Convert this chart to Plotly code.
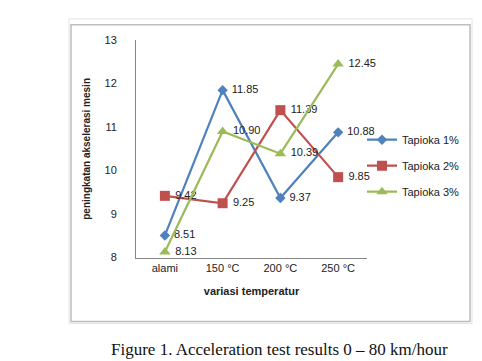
import plotly.graph_objects as go

categories = ["alami", "150 °C", "200 °C", "250 °C"]
tapioka1 = [8.51, 11.85, 9.37, 10.88]
tapioka2 = [9.42, 9.25, 11.39, 9.85]
tapioka3 = [8.13, 10.90, 10.39, 12.45]
series_names = ["Tapioka 1%", "Tapioka 2%", "Tapioka 3%"]
y_ticks = [8, 9, 10, 11, 12, 13]

W, H = 482, 361
def px(x): return x / W
def py(y): return 1 - y / H

colors = ["#4F81BD", "#C0504D", "#9BBB59"]
symbols = ["diamond", "square", "triangle-up"]
sizes = [8, 10, 10]

fig = go.Figure()
for name, vals, c, s, sz in zip(series_names, [tapioka1, tapioka2, tapioka3], colors, symbols, sizes):
    fig.add_trace(go.Scatter(
        x=categories, y=vals, name=name, mode="lines+markers+text", legendgroup=name,
        line=dict(color=c, width=2.2),
        marker=dict(symbol=s, size=sz, color=c),
        text=[f" {v:.2f}" for v in vals], textposition="middle right",
        textfont=dict(family="Liberation Sans, sans-serif", size=11, color="#222"),
        cliponaxis=False,
    ))

fig.update_layout(
    width=W, height=H, margin=dict(l=0, r=0, t=0, b=0),
    paper_bgcolor="white", plot_bgcolor="white",
    font=dict(family="Liberation Sans, sans-serif", size=11, color="#222"),
    xaxis=dict(domain=[px(128), px(359)], type="category", range=[-0.5, 3.5],
               showline=True, linecolor="#868686", linewidth=1, showgrid=False,
               ticks="", tickfont=dict(size=11),
               title=dict(text="<b>variasi temperatur</b>", font=dict(size=11), standoff=14)),
    yaxis=dict(domain=[py(252), py(27)], range=[8, 13], tickvals=y_ticks,
               showline=True, linecolor="#868686", linewidth=1, showgrid=False,
               ticks="", tickfont=dict(size=11), zeroline=False, ticklabelstandoff=16,
               title=dict(text="<b>peningkatan akselerasi mesin</b>", font=dict(size=10), standoff=12)),
    legend=dict(x=px(354), y=py(115), xanchor="left", yanchor="top",
                font=dict(size=11), bgcolor="rgba(0,0,0,0)", tracegroupgap=7,
                itemwidth=30),
    showlegend=True,
)

# chart frame (Excel-style)
fig.add_shape(type="rect", xref="paper", yref="paper", x0=px(61), x1=px(464), y0=py(320), y1=py(5),
              line=dict(color="#e2e2e2", width=1), layer="below")
fig.add_shape(type="rect", xref="paper", yref="paper", x0=px(63), x1=px(462), y0=py(318), y1=py(11),
              line=dict(color="#bdbdbd", width=1.5), layer="below")

fig.add_annotation(text="Figure 1. Acceleration test results 0 – 80 km/hour", xref="paper", yref="paper",
                   x=px(271), y=py(347), yanchor="middle", showarrow=False,
                   font=dict(family="Liberation Serif, Times New Roman, serif", size=17, color="#111"))

fig.write_html("out.html")
